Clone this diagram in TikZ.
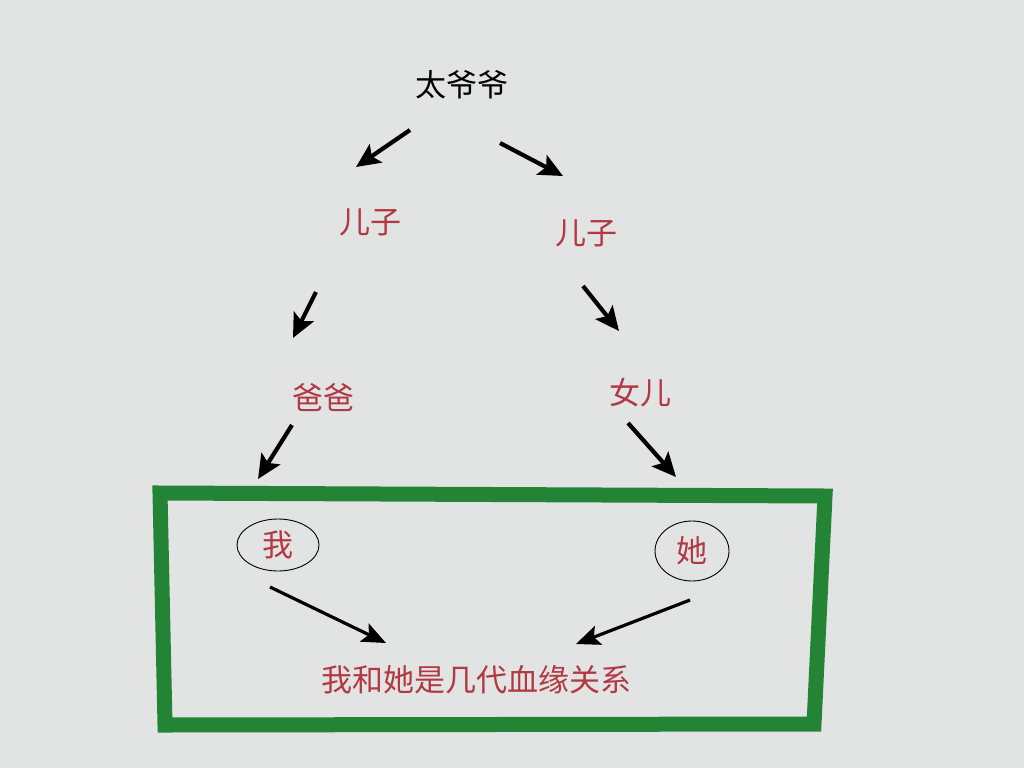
\documentclass[tikz,border=0pt]{standalone}
\usepackage{fontspec}
\newfontfamily\cjk{Noto Sans CJK SC}
\usetikzlibrary{arrows.meta,shapes.geometric}
\definecolor{bg}{RGB}{226,228,228}
\definecolor{txtred}{RGB}{178,56,66}
\definecolor{boxgreen}{RGB}{36,132,54}
\tikzset{
  lbl/.style={font=\cjk\fontsize{31}{34}\selectfont, inner sep=0pt},
  redlbl/.style={lbl, text=txtred},
  circ/.style={ellipse, draw=black, line width=0.9pt, inner sep=0pt},
  arr/.style={line width=4.2pt, -{Stealth[length=24pt,width=22pt,inset=5pt]}, black},
  thinarr/.style={line width=3.2pt, -{Stealth[length=24pt,width=20pt,inset=5pt]}, black},
  frame/.style={draw=boxgreen, line width=15pt, line join=miter}
}
\begin{document}
\begin{tikzpicture}[x=1pt,y=-1pt]
\fill[bg] (0,0) rectangle (1024,768);
\useasboundingbox (0,0) rectangle (1024,768);
% frame
\draw[frame] (160,493) -- (825,496) -- (814,724) -- (165,725) -- cycle;
% nodes
\node[lbl] (top) at (462,85) {太爷爷};
\node[redlbl] (s1) at (370,222) {儿子};
\node[redlbl] (s2) at (586,233) {儿子};
\node[redlbl] (dad) at (323,398) {爸爸};
\node[redlbl] (dau) at (640,393) {女儿};
\node[circ, minimum width=82pt, minimum height=52pt] (me) at (278,545) {};
\node[redlbl] at (me) {我};
\node[circ, minimum width=74pt, minimum height=60pt] (her) at (692,551) {};
\node[redlbl] at (her) {她};
\node[redlbl] (q) at (476,680) {我和她是几代血缘关系};
% arrow ends
\coordinate (a1s) at (410,130); \coordinate (a1e) at (356,167);
\coordinate (a2s) at (500,143); \coordinate (a2e) at (563,176);
\coordinate (a3s) at (316,292); \coordinate (a3e) at (293,338);
\coordinate (a4s) at (583,286); \coordinate (a4e) at (619,331);
\coordinate (a5s) at (292,425); \coordinate (a5e) at (258,479);
\coordinate (a6s) at (628,423); \coordinate (a6e) at (676,477);
\coordinate (a7s) at (270,587); \coordinate (a7e) at (386,643);
\coordinate (a8s) at (690,600); \coordinate (a8e) at (576,644);
\draw[arr] (a1s) -- (a1e);
\draw[arr] (a2s) -- (a2e);
\draw[arr] (a3s) -- (a3e);
\draw[arr] (a4s) -- (a4e);
\draw[arr] (a5s) -- (a5e);
\draw[arr] (a6s) -- (a6e);
\draw[thinarr] (a7s) -- (a7e);
\draw[thinarr] (a8s) -- (a8e);
\end{tikzpicture}
\end{document}
